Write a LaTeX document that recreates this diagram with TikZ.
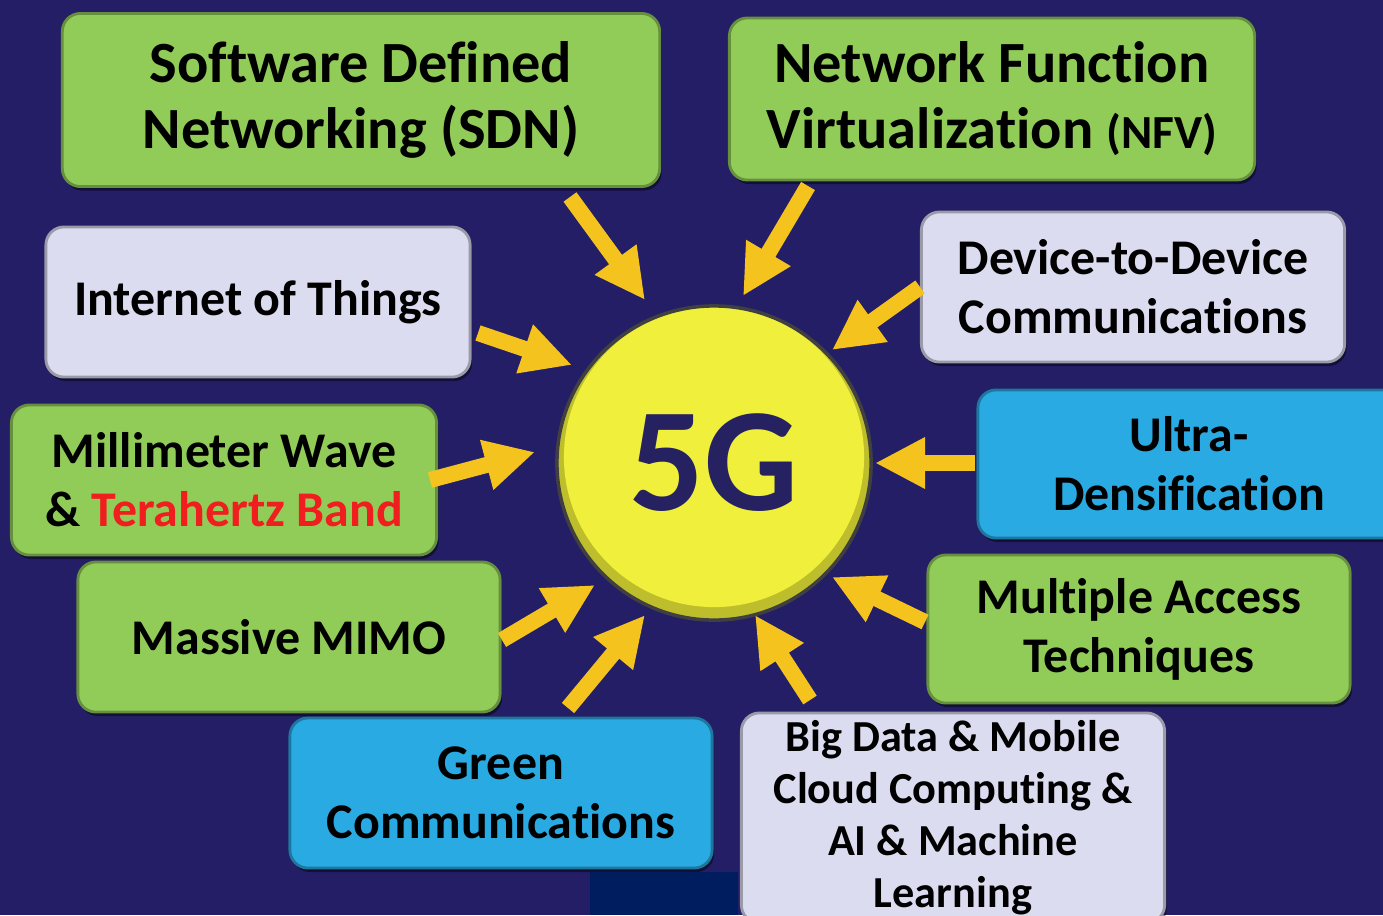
\documentclass[tikz,border=0pt]{standalone}
\usepackage{fontspec}
\setmainfont{Carlito}[Ligatures=NoCommon]
\usetikzlibrary{arrows.meta, shadows}
\definecolor{bgnavy}{RGB}{36,30,102}
\definecolor{darkpatch}{RGB}{0,30,95}
\definecolor{boxgreen}{RGB}{146,204,88}
\definecolor{boxlav}{RGB}{220,220,240}
\definecolor{boxblue}{RGB}{42,170,226}
\definecolor{sunyellow}{RGB}{240,240,60}
\definecolor{sunrim}{RGB}{190,190,45}
\definecolor{fiveg}{RGB}{38,34,98}
\definecolor{arrowgold}{RGB}{245,195,30}
\definecolor{thzred}{RGB}{240,30,30}

\begin{document}
\begin{tikzpicture}[x=0.01cm,y=-0.01cm,
  box/.style={rounded corners=0.18cm, align=center, inner sep=0pt, text=black,
    font=\fontsize{14.2}{16.8}\selectfont\bfseries,
    drop shadow={shadow xshift=0.02cm, shadow yshift=-0.04cm, fill=black, opacity=0.45}},
  greenbox/.style={box, fill=boxgreen, draw=boxgreen!70!black, line width=0.8pt},
  lavbox/.style={box, fill=boxlav, draw=boxlav!70!black, line width=0.8pt},
  bluebox/.style={box, fill=boxblue, draw=boxblue!70!black, line width=0.8pt},
  arr/.style={draw=arrowgold, line width=0.16cm, -{Triangle[length=0.5cm,width=0.48cm]}}]
  \useasboundingbox (0,0) rectangle (1383,915);
  \clip (0,0) rectangle (1383,915);
  \fill[bgnavy] (0,0) rectangle (1383,915);
  \fill[darkpatch] (590,872) rectangle (738,915);

  % boxes
  \node[greenbox, minimum width=5.97cm, minimum height=1.73cm,
    font=\fontsize{16.6}{18.8}\selectfont\bfseries] (sdn) at (361,100)
    {Software Defined\\Networking (SDN)};
  \node[greenbox, minimum width=5.25cm, minimum height=1.62cm,
    font=\fontsize{16.6}{18.8}\selectfont\bfseries] (nfv) at (992,99)
    {Network Function\\Virtualization {\fontsize{13.5}{16}\selectfont(NFV)}};
  \node[lavbox, minimum width=4.24cm, minimum height=1.50cm] (iot) at (258,302)
    {Internet of Things};
  \node[lavbox, minimum width=4.23cm, minimum height=1.50cm] (d2d) at (1133,287)
    {Device-to-Device\\Communications};
  \node[greenbox, minimum width=4.25cm, minimum height=1.50cm] (mmw) at (224,480)
    {Millimeter Wave\\\& \textcolor{thzred}{Terahertz Band}};
  \node[bluebox, minimum width=4.22cm, minimum height=1.48cm] (udn) at (1189,464)
    {Ultra-\\Densification};
  \node[greenbox, minimum width=4.22cm, minimum height=1.50cm] (mimo) at (289,637)
    {Massive MIMO};
  \node[greenbox, minimum width=4.22cm, minimum height=1.48cm] (mat) at (1139,629)
    {Multiple Access\\Techniques};
  \node[bluebox, minimum width=4.22cm, minimum height=1.50cm] (gc) at (501,793)
    {Green\\Communications};
  \node[lavbox, minimum width=4.23cm, minimum height=2.10cm,
    font=\fontsize{12.6}{14.8}\selectfont\bfseries] (bd) at (953,818)
    {Big Data \& Mobile\\Cloud Computing \&\\AI \& Machine\\Learning};

  % centre
  \node[circle, minimum size=3.14cm, fill=sunrim, draw=black!75, line width=1pt,
    path picture={\fill[sunyellow] ([yshift=0.06cm]path picture bounding box.center) circle[radius=1.5cm];},
    text=fiveg, font=\fontsize{42}{42}\selectfont\bfseries] (g5) at (714,463) {5G};

  % arrows into 5G
  \coordinate (t1) at (570,197);  \coordinate (h1) at (645,300);
  \coordinate (t2) at (808,186);  \coordinate (h2) at (743,296);
  \coordinate (t3) at (920,287);  \coordinate (h3) at (832,350);
  \coordinate (t4) at (478,333);  \coordinate (h4) at (572,365);
  \coordinate (t5) at (430,480);  \coordinate (h5) at (535,452);
  \coordinate (t6) at (975,463);  \coordinate (h6) at (875,463);
  \coordinate (t7) at (502,640);  \coordinate (h7) at (595,585);
  \coordinate (t8) at (568,708);  \coordinate (h8) at (645,615);
  \coordinate (t9) at (925,622);  \coordinate (h9) at (832,577);
  \coordinate (t10) at (810,700); \coordinate (h10) at (755,615);
  \foreach \i in {1,...,10}
    \draw[arr] (t\i) -- (h\i);
\end{tikzpicture}
\end{document}
